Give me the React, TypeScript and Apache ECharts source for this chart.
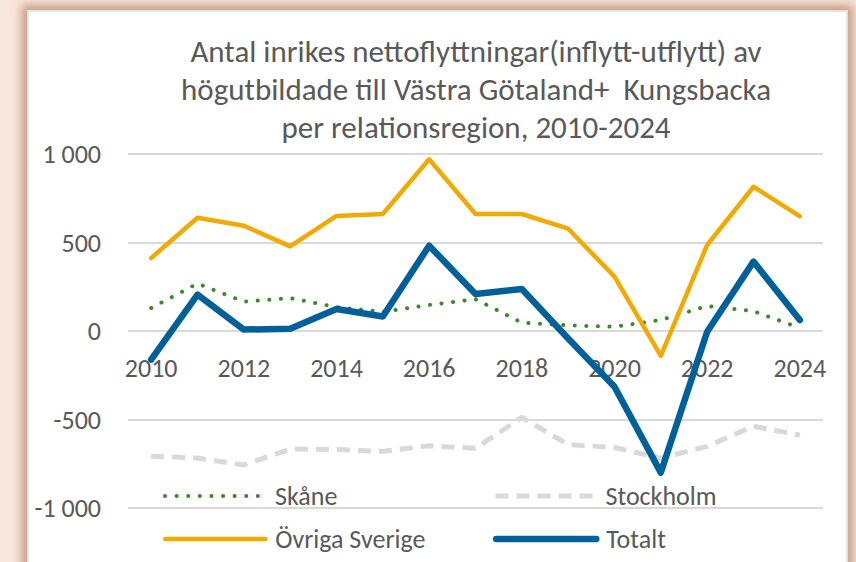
import React, { useEffect, useRef } from "react";
import * as echarts from "echarts";

const years: string[] = ["2010","2011","2012","2013","2014","2015","2016","2017","2018","2019","2020","2021","2022","2023","2024"];
const skane: number[] = [130, 268, 166, 186, 135, 108, 147, 180, 47, 32, 24, 62, 141, 112, 17];
const stockholm: number[] = [-708, -718, -757, -667, -670, -680, -648, -663, -488, -642, -658, -718, -652, -538, -588];
const ovriga: number[] = [412, 640, 595, 478, 650, 661, 970, 661, 661, 578, 307, -140, 486, 815, 648];
const totalt: number[] = [-162, 205, 8, 13, 124, 82, 482, 209, 237, -42, -315, -800, -4, 392, 62];
const titleLines: string[] = [
  "Antal inrikes nettoflyttningar(inflytt-utflytt) av",
  "högutbildade till Västra Götaland+  Kungsbacka",
  "per relationsregion, 2010-2024",
];

const NARROW = "Carlito, 'Liberation Sans Narrow', 'Open Sans', sans-serif";
const TXT = "#595959";

const C_SKANE = "#3a8a2a";
const C_STHLM = "#d9d9d9";
const C_OVR = "#f2a900";
const C_TOT = "#00609a";

export default function App() {
  const ref = useRef<HTMLDivElement>(null);
  useEffect(() => {
    if (!ref.current) return;
    const chart = echarts.init(ref.current, null, { renderer: "svg" });
    const fmt = (v: number) => {
      const s = Math.abs(v).toString().replace(/\B(?=(\d{3})+(?!\d))/g, " ");
      return (v < 0 ? "-" : "") + s;
    };
    const lsSkane = { color: C_SKANE, width: 4, type: [0.1, 11.5], cap: "round", join: "round" };
    const lsSthlm = { color: C_STHLM, width: 5, type: [13, 8], cap: "butt", join: "round" };
    const lsOvr = { color: C_OVR, width: 4.5, type: "solid", join: "round", cap: "round" };
    const lsTot = { color: C_TOT, width: 6.5, type: "solid", join: "round", cap: "round" };
    const legendText = { color: TXT, fontSize: 26, fontFamily: NARROW, padding: [0, 0, 0, 5] };
    const mkLegend = (name: string, left: number, top: number, ls: any) => ({
      data: [name], left, top, itemWidth: 100, itemHeight: 14, textStyle: legendText, padding: 0,
      itemStyle: { color: "transparent", borderWidth: 0, opacity: 0 },
      lineStyle: ls,
    });
    chart.setOption({
      animation: false,
      graphic: titleLines.map((t, i) => ({
        type: "text",
        x: 476,
        y: [51, 89, 127][i],
        style: { text: t, fill: TXT, font: `31px ${NARROW}`, textAlign: "center", textVerticalAlign: "middle" },
      })),
      grid: { left: 128, right: 33, top: 154, bottom: 54 },
      legend: [
        mkLegend("Skåne", 163, 483, lsSkane),
        mkLegend("Stockholm", 493, 483, lsSthlm),
        mkLegend("Övriga Sverige", 163, 526, lsOvr),
        mkLegend("Totalt", 493, 526, lsTot),
      ],
      xAxis: {
        type: "category",
        data: years,
        boundaryGap: true,
        position: "bottom",
        offset: -177,
        axisLine: { show: false, onZero: false },
        axisTick: { show: false },
        axisLabel: { interval: 1, color: TXT, fontSize: 26, fontFamily: NARROW, margin: 24 },
      },
      yAxis: {
        type: "value",
        min: -1000,
        max: 1000,
        interval: 500,
        axisLine: { show: false },
        axisTick: { show: false },
        splitLine: { lineStyle: { color: "#d9d9d9", width: 2 } },
        axisLabel: { color: TXT, fontSize: 26, fontFamily: NARROW, margin: 27, formatter: fmt },
      },
      series: [
        { name: "Skåne", type: "line", data: skane, symbol: "none", color: C_SKANE, lineStyle: lsSkane },
        { name: "Stockholm", type: "line", data: stockholm, symbol: "none", color: C_STHLM, lineStyle: lsSthlm },
        { name: "Övriga Sverige", type: "line", data: ovriga, symbol: "none", color: C_OVR, lineStyle: lsOvr },
        { name: "Totalt", type: "line", data: totalt, symbol: "none", color: C_TOT, lineStyle: lsTot },
      ],
    });
    return () => chart.dispose();
  }, []);

  return (
    <div style={{ position: "fixed", left: 0, top: 0, width: 856, height: 562, overflow: "hidden", background: "#f7e6dc" }}>
      <div
        style={{
          position: "absolute", left: 27, top: 10, width: 817, height: 600,
          background: "#ffffff", border: "2px solid #e3e3e3",
          boxShadow: "0 0 9px 5px rgba(185,130,100,0.75)",
        }}
      />
      <div ref={ref} style={{ position: "absolute", left: 0, top: 0, width: 856, height: 562 }} />
    </div>
  );
}
